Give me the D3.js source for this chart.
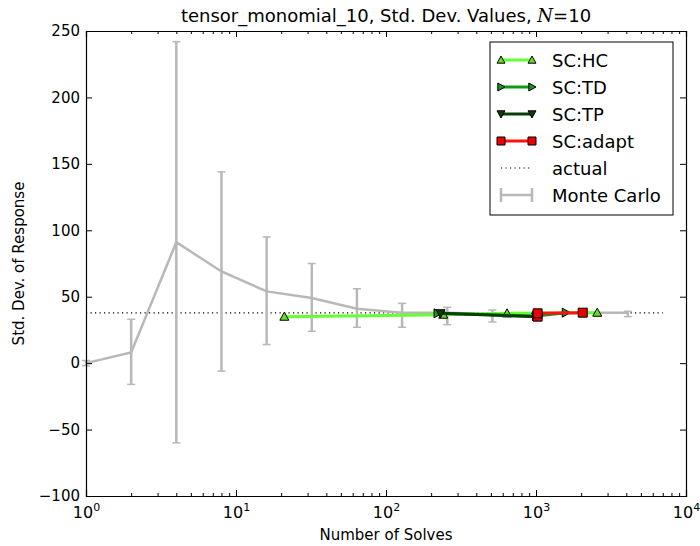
<!DOCTYPE html>
<html>
<head>
<meta charset="utf-8">
<script src="https://cdn.jsdelivr.net/npm/d3@7"></script>
<style>
  body { margin: 0; background: #fff; }
  text { font-family: "DejaVu Sans", sans-serif; }
</style>
</head>
<body>
<div id="chart-area"></div>
<script>
// Monte Carlo estimates (mean and error bar ends)
const mcSolves = [1, 2, 4, 8, 16, 32, 64, 128, 256, 512, 1024, 2048, 4096];
const mcMean   = [0, 8, 91, 69, 54, 49, 41, 38, 38, 37, 37, 38, 38];
const mcLow    = [-2, -16, -60, -6, 14, 24, 27, 27, 29, 31, 33, 35, 35];
const mcHigh   = [2, 33, 242, 144, 95, 75, 56, 45, 42, 40, 40, 40, 39];

// sparse grid series
const hcSolves = [21, 241, 641, 2561];
const hcValues = [35, 36.5, 37.5, 38];
const tdSolves = [221, 1001, 1581];
const tdValues = [37.5, 35.5, 38];
const tpSolves = [231, 1001];
const tpValues = [37.5, 35];
const adSolves = [1025, 1025, 2049];
const adValues = [35, 37.5, 38];

const actualValue = 37.8;
const actualRange = [1, 7000];

const xTicks = [1, 10, 100, 1000, 10000];
const yTicks = [-100, -50, 0, 50, 100, 150, 200, 250];

const config = {
    width: 700,
    height: 546,
    margin: { left: 86, right: 14, top: 31, bottom: 50 }
};
config.chartWidth = config.width - config.margin.left - config.margin.right;
config.chartHeight = config.height - config.margin.top - config.margin.bottom;

const svg = d3.select('#chart-area')
    .append('svg')
    .attr('width', config.width)
    .attr('height', config.height)
    .style('background', '#fff');

const g = svg.append('g')
    .attr('transform', `translate(${config.margin.left}, ${config.margin.top})`);

const xScale = d3.scaleLog()
    .domain([1, 10000])
    .range([0, config.chartWidth]);

const yScale = d3.scaleLinear()
    .domain([-100, 250])
    .range([config.chartHeight, 0]);

// minor ticks for the log axis
const minorTicks = [];
for (let p = 0; p < 4; p++) {
    for (let m = 2; m < 10; m++) minorTicks.push(m * Math.pow(10, p));
}

const plot = g.append('g');

// actual value
plot.append('line')
    .attr('x1', xScale(actualRange[0]))
    .attr('x2', xScale(actualRange[1]))
    .attr('y1', yScale(actualValue))
    .attr('y2', yScale(actualValue))
    .attr('stroke', '#000')
    .attr('stroke-width', 1.2)
    .attr('stroke-dasharray', '1.2,3.3');

// Monte Carlo
const mc = mcSolves.map((s, i) => ({ s, m: mcMean[i], lo: mcLow[i], hi: mcHigh[i] }));
const mcColor = '#b8b8b8';
const mcG = plot.append('g');
mcG.append('path')
    .datum(mc)
    .attr('fill', 'none')
    .attr('stroke', mcColor)
    .attr('stroke-width', 2.5)
    .attr('d', d3.line().x(d => xScale(d.s)).y(d => yScale(d.m)));
mcG.selectAll('.ebar').data(mc).enter().append('line')
    .attr('x1', d => xScale(d.s)).attr('x2', d => xScale(d.s))
    .attr('y1', d => yScale(d.lo)).attr('y2', d => yScale(d.hi))
    .attr('stroke', mcColor).attr('stroke-width', 2.5);
['lo', 'hi'].forEach(k => {
    mcG.selectAll('.cap-' + k).data(mc).enter().append('line')
        .attr('x1', d => xScale(d.s) - 4).attr('x2', d => xScale(d.s) + 4)
        .attr('y1', d => yScale(d[k])).attr('y2', d => yScale(d[k]))
        .attr('stroke', mcColor).attr('stroke-width', 1.5);
});

const series = [
    { name: 'SC:HC', solves: hcSolves, values: hcValues, color: '#66ff33', fill: '#66dd22', symbol: 'up' },
    { name: 'SC:TD', solves: tdSolves, values: tdValues, color: '#119911', fill: '#119911', symbol: 'right' },
    { name: 'SC:TP', solves: tpSolves, values: tpValues, color: '#0b3d0b', fill: '#0b3d0b', symbol: 'down' },
    { name: 'SC:adapt', solves: adSolves, values: adValues, color: '#ff1111', fill: '#ee0000', symbol: 'square' }
];

function markerPath(symbol, r) {
    if (symbol === 'up') return `M0,${-r}L${r},${r * 0.8}L${-r},${r * 0.8}Z`;
    if (symbol === 'down') return `M0,${r}L${r},${-r * 0.8}L${-r},${-r * 0.8}Z`;
    if (symbol === 'right') return `M${r},0L${-r * 0.8},${r}L${-r * 0.8},${-r}Z`;
    return `M${-r},${-r}H${r}V${r}H${-r}Z`;
}

series.forEach(s => {
    const pts = s.solves.map((v, i) => ({ s: v, v: s.values[i] }));
    const sg = plot.append('g');
    sg.append('path')
        .datum(pts)
        .attr('fill', 'none')
        .attr('stroke', s.color)
        .attr('stroke-width', 3)
        .attr('d', d3.line().x(d => xScale(d.s)).y(d => yScale(d.v)));
    sg.selectAll('path.mk').data(pts).enter().append('path')
        .attr('class', 'mk')
        .attr('transform', d => `translate(${xScale(d.s)},${yScale(d.v)})`)
        .attr('d', markerPath(s.symbol, 4.5))
        .attr('fill', s.fill)
        .attr('stroke', '#000')
        .attr('stroke-width', 1);
});

// axes (ticks inside, mirrored on all sides)
const fmtPow = d => Math.round(Math.log10(d));

const xAxisGroup = g.append('g')
    .attr('transform', `translate(0, ${config.chartHeight})`)
    .call(d3.axisBottom(xScale).tickValues(xTicks).tickSize(-6).tickFormat(''));
xAxisGroup.selectAll('.tick text').remove();
xAxisGroup.selectAll('.tick').append('text')
    .attr('y', 22)
    .attr('text-anchor', 'middle')
    .attr('fill', '#000')
    .attr('font-size', '16px')
    .each(function(d) {
        const t = d3.select(this);
        t.append('tspan').text('10');
        t.append('tspan').attr('dy', -7).attr('font-size', '11px').text(fmtPow(d));
    });
g.append('g')
    .attr('transform', `translate(0, ${config.chartHeight})`)
    .call(d3.axisBottom(xScale).tickValues(minorTicks).tickSize(-3).tickFormat(''))
    .select('.domain').remove();

g.append('g')
    .call(d3.axisTop(xScale).tickValues(xTicks).tickSize(-6).tickFormat(''));
g.append('g')
    .call(d3.axisTop(xScale).tickValues(minorTicks).tickSize(-3).tickFormat(''))
    .select('.domain').remove();

const yAxisGroup = g.append('g')
    .call(d3.axisLeft(yScale).tickValues(yTicks).tickSize(-6).tickPadding(6)
        .tickFormat(d => d < 0 ? '\u2212' + Math.abs(d) : d));
yAxisGroup.selectAll('.tick text')
    .attr('font-size', '15px')
    .attr('fill', '#000');

g.append('g')
    .attr('transform', `translate(${config.chartWidth}, 0)`)
    .call(d3.axisRight(yScale).tickValues(yTicks).tickSize(-6).tickFormat(''));

g.selectAll('.domain').attr('stroke', '#000').attr('stroke-width', 1.2);
g.selectAll('.tick line').attr('stroke', '#000');

// labels
svg.append('text')
    .attr('x', config.margin.left + config.chartWidth / 2)
    .attr('y', 540)
    .attr('text-anchor', 'middle')
    .attr('font-size', '15px')
    .text('Number of Solves');

svg.append('text')
    .attr('transform', `translate(24, ${config.margin.top + config.chartHeight / 2}) rotate(-90)`)
    .attr('text-anchor', 'middle')
    .attr('font-size', '15px')
    .text('Std. Dev. of Response');

const title = svg.append('text')
    .attr('x', config.margin.left + config.chartWidth / 2)
    .attr('y', 22)
    .attr('text-anchor', 'middle')
    .attr('font-size', '18px');
title.append('tspan').text('tensor_monomial_10, Std. Dev. Values, ');
title.append('tspan').attr('font-family', '"DejaVu Serif", serif').attr('font-style', 'italic').text('N');
title.append('tspan').text('=10');

// legend
const legend = svg.append('g').attr('transform', 'translate(490, 42)');
legend.append('rect')
    .attr('width', 183).attr('height', 173)
    .attr('fill', '#fff').attr('stroke', '#000').attr('stroke-width', 1);

const legendItems = series.map(s => ({ type: 'series', s, name: s.name }))
    .concat([{ type: 'actual', name: 'actual' }, { type: 'mc', name: 'Monte Carlo' }]);

legendItems.forEach((item, i) => {
    const row = legend.append('g').attr('transform', `translate(0, ${18 + i * 27})`);
    const x0 = 11, x1 = 42;
    if (item.type === 'series') {
        row.append('line').attr('x1', x0).attr('x2', x1)
            .attr('stroke', item.s.color).attr('stroke-width', 3);
        [x0, x1].forEach(x => row.append('path')
            .attr('transform', `translate(${x},0)`)
            .attr('d', markerPath(item.s.symbol, 4))
            .attr('fill', item.s.fill).attr('stroke', '#000'));
    } else if (item.type === 'actual') {
        row.append('line').attr('x1', x0).attr('x2', x1)
            .attr('stroke', '#000').attr('stroke-width', 1.2)
            .attr('stroke-dasharray', '1.2,3.3');
    } else {
        row.append('line').attr('x1', x0).attr('x2', x1)
            .attr('stroke', mcColor).attr('stroke-width', 2.5);
        [x0, x1].forEach(x => row.append('line')
            .attr('x1', x).attr('x2', x).attr('y1', -7).attr('y2', 7)
            .attr('stroke', mcColor).attr('stroke-width', 2.5));
    }
    row.append('text')
        .attr('x', 62).attr('y', 7)
        .attr('font-size', '18px')
        .text(item.name);
});
</script>
</body>
</html>
